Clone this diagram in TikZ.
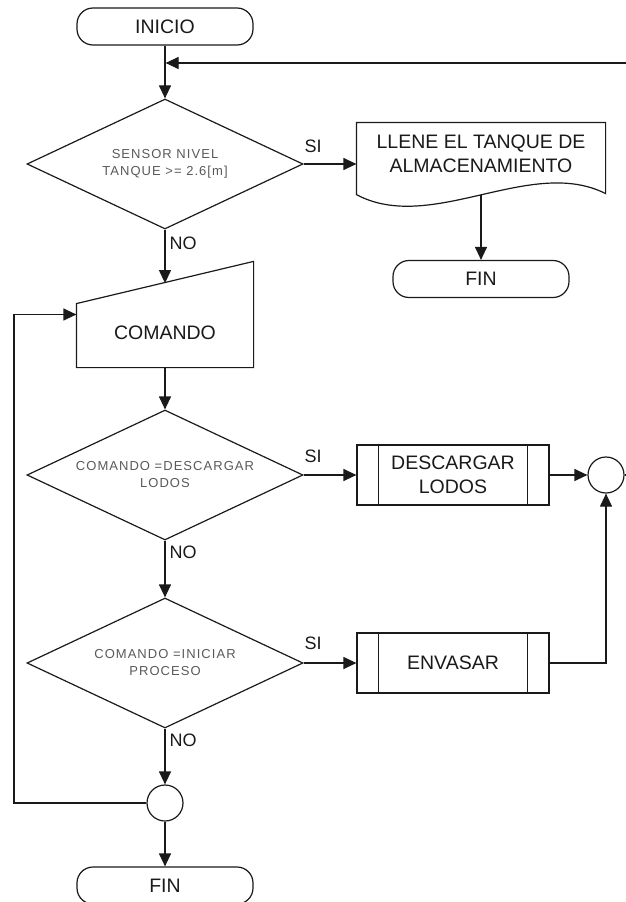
\documentclass[tikz,border=0pt]{standalone}
\usepackage{fontspec}
\setmainfont{Liberation Sans}
\newfontfamily\condfont[LetterSpace=8]{Liberation Sans}
\usetikzlibrary{shapes.geometric,arrows.meta,calc}

\definecolor{ink}{HTML}{1A1A1A}
\definecolor{softink}{HTML}{5A5A5A}

\begin{document}
\begin{tikzpicture}[x=1pt,y=-1pt,
  line width=1.2pt, color=ink,
  every node/.style={inner sep=0pt},
  bigtext/.style={font=\fontsize{19.5}{23.5}\selectfont, align=center},
  terminal/.style={draw, rounded corners=16pt, minimum width=176pt, minimum height=37pt, bigtext},
  decision/.style={draw, diamond, aspect=2.12, minimum width=276pt, minimum height=130pt,
    align=center, text=softink, font=\condfont\fontsize{13}{17}\selectfont},
  subproc/.style={draw, rectangle, minimum width=192pt, minimum height=60pt, bigtext},
  joint/.style={draw, circle, minimum size=36pt},
  arr/.style={-{Triangle[length=13pt,width=12pt]}},
  answer/.style={font=\fontsize{18}{18}\selectfont}
]
% canvas
\clip (0,0) rectangle (626,902);
\fill[white] (0,0) rectangle (626,902);

% ---- nodes ----
\node[terminal] (start) at (165,26.5) {INICIO};
\node[decision] (d1) at (165,164) {SENSOR NIVEL\\TANQUE >= 2.6[m]};

% document symbol (wavy bottom)
\node[bigtext, minimum width=248pt, minimum height=62pt] (doc) at (481,154)
  {LLENE EL TANQUE DE\\ALMACENAMIENTO};
\draw (doc.north west) -- ($(doc.south west)+(0,9)$)
  .. controls +(75,40) and +(-75,-38) .. ($(doc.south east)+(0,8)$)
  -- (doc.north east) -- cycle;
\coordinate (docout) at ($(doc.south)+(0,9)$);
\node[terminal] (end1) at (481,279) {FIN};

% manual input symbol
\node[minimum width=176pt, minimum height=105pt] (cmd) at (165,314.5) {};
\draw (cmd.south west) -- (cmd.south east) -- (cmd.north east)
  -- ($(cmd.south west)+(0,-64)$) -- cycle;
\node[bigtext] (cmdtext) at ($(cmd.center)+(0,18.5)$) {COMANDO};
\coordinate (cmdin) at ($(cmd.south)+(0,-84.5)$);

\node[decision] (d2) at (165,475) {COMANDO =DESCARGAR\\LODOS};
\node[decision] (d3) at (165,663) {COMANDO =INICIAR\\PROCESO};

\node[subproc] (p1) at (453,475) {DESCARGAR\\LODOS};
\node[subproc] (p2) at (453,663) {ENVASAR};
\foreach \p in {p1,p2}{
  \draw ([xshift=22pt]\p.north west) -- ([xshift=22pt]\p.south west);
  \draw ([xshift=-22pt]\p.north east) -- ([xshift=-22pt]\p.south east);
}

\node[joint] (cR) at (606,475) {};
\node[joint] (cB) at (165,803) {};
\node[terminal] (end2) at (165,885.5) {FIN};

\coordinate (edgeR) at (626,63);
\coordinate (loopx) at (14,803);

% ---- connectors ----
\draw[arr] (start) -- (d1);
\draw[arr, shorten >=0.6pt] (edgeR) -- (start.south |- edgeR);
\draw[arr] (d1.east) -- (d1.east -| doc.west);
\draw[arr] (docout) -- (end1);
\draw[arr] (d1.south) -- (cmdin);
\draw[arr] (cmd.south) -- (d2.north);
\draw[arr] (d2.east) -- (p1.west);
\draw[arr] (p1.east) -- (cR.west);
\draw (cR.east) -- (cR.east -| edgeR);
\draw[arr] (d2.south) -- (d3.north);
\draw[arr] (d3.east) -- (p2.west);
\draw[arr] (p2.east) -| (cR.south);
\draw[arr] (d3.south) -- (cB.north);
\draw[arr] (cB.south) -- (end2.north);
\draw[arr] (cB.west) -- (loopx) |- (cmd.west);

% ---- branch labels ----
\node[answer] (si1) at (313,146) {SI};
\node[answer] (si2) at (313,456) {SI};
\node[answer] (si3) at (313,643) {SI};
\node[answer, anchor=west] (no1) at (169,243) {NO};
\node[answer, anchor=west] (no2) at (169,552) {NO};
\node[answer, anchor=west] (no3) at (169,740) {NO};
\end{tikzpicture}
\end{document}
